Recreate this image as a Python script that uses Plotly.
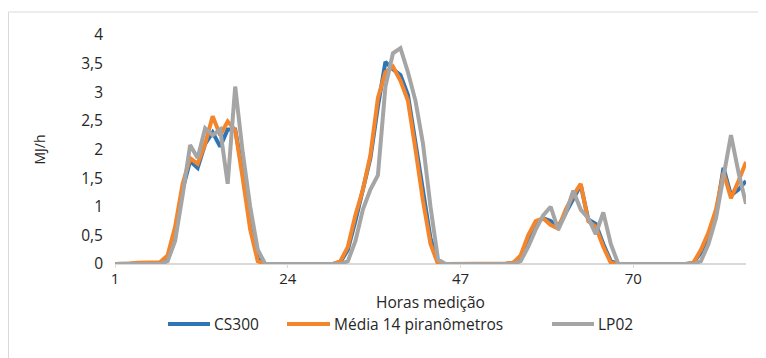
import plotly.graph_objects as go

hours = list(range(1, 86))
tick_vals = [1, 24, 47, 70]
series_names = ["CS300", "Média 14 piranômetros", "LP02"]
series_colors = ["#2E75B6", "#F4852A", "#A5A5A5"]

cs300 = [0, 0, 0, 0.01, 0.01, 0.01, 0.02,
         0.1, 0.5, 1.3, 1.8, 1.68, 2.1, 2.3, 2.05, 2.35, 2.35, 1.6, 0.75, 0.1,
         0, 0, 0, 0, 0, 0, 0, 0, 0, 0,
         0.03, 0.25, 0.75, 1.3, 1.85, 2.75, 3.53, 3.4, 3.3, 2.95, 2.1, 1.2, 0.45, 0.02,
         0, 0, 0, 0, 0, 0, 0, 0, 0,
         0.02, 0.12, 0.45, 0.72, 0.8, 0.75, 0.65, 0.9, 1.15, 1.38, 0.78, 0.7, 0.35, 0.05,
         0, 0, 0, 0, 0, 0, 0, 0, 0, 0,
         0.02, 0.2, 0.5, 0.85, 1.68, 1.2, 1.3, 1.45]

media14 = [0, 0, 0.01, 0.02, 0.02, 0.02, 0.03,
           0.15, 0.65, 1.4, 1.85, 1.75, 2.1, 2.58, 2.25, 2.49, 2.34, 1.5, 0.6, 0.05,
           0, 0, 0, 0, 0, 0, 0, 0, 0, 0,
           0.05, 0.3, 0.85, 1.3, 1.9, 2.9, 3.35, 3.45, 3.2, 2.85, 2.0, 1.1, 0.35, 0.0,
           0, 0, 0, 0, 0, 0, 0, 0.01, 0.01,
           0.02, 0.15, 0.5, 0.75, 0.8, 0.68, 0.62, 0.95, 1.2, 1.4, 0.75, 0.65, 0.3, 0.02,
           0, 0, 0, 0, 0, 0, 0, 0, 0, 0,
           0.02, 0.25, 0.55, 0.95, 1.6, 1.15, 1.45, 1.78]

lp02 = [0, 0, 0, 0, 0, 0, 0,
        0.05, 0.4, 1.2, 2.08, 1.85, 2.37, 2.25, 2.35, 1.4, 3.1, 1.95, 1.0, 0.25,
        0, 0, 0, 0, 0, 0, 0, 0, 0, 0,
        0, 0.05, 0.4, 0.95, 1.3, 1.55, 3.1, 3.68, 3.77, 3.35, 2.85, 2.1, 1.0, 0.08,
        0, 0, 0, 0, 0, 0, 0, 0, 0,
        0, 0.05, 0.3, 0.6, 0.85, 1.0, 0.6, 0.88, 1.28, 0.95, 0.8, 0.52, 0.9, 0.35,
        0, 0, 0, 0, 0, 0, 0, 0, 0, 0,
        0, 0.05, 0.35, 0.8, 1.5, 2.25, 1.6, 1.05]

FONT = "'Open Sans', Lato, sans-serif"
TXT = "#262626"

# figure is drawn at an 8px page offset; plot area in figure coords: x 107-738, y 27-256
L, R, T, B = 107, 20, 27, 94
W, H = 758, 350
PW, PH = W - L - R, H - T - B


def px(x):
    return (x - L) / PW


def py(y):
    return ((T + PH) - y) / PH


fig = go.Figure()
for name, col, vals in zip(series_names, series_colors, [cs300, media14, lp02]):
    fig.add_trace(go.Scatter(x=hours, y=vals, mode="lines", name=name,
                             line=dict(color=col, width=4), showlegend=False))

# custom legend (line samples + labels) to match the reference spacing
leg_y = 316
leg_items = [(160, 202), (279, 322), (544, 586)]
shapes = []
annotations = []
for (x0, x1), name, col in zip(leg_items, series_names, series_colors):
    shapes.append(dict(type="line", xref="paper", yref="paper",
                       x0=px(x0), x1=px(x1), y0=py(leg_y), y1=py(leg_y),
                       line=dict(color=col, width=4)))
    annotations.append(dict(x=px(x1 + 2), y=py(leg_y), xref="paper", yref="paper",
                            text=name, showarrow=False, xanchor="left", yanchor="middle",
                            font=dict(family=FONT, size=15.5, color=TXT)))

# x-axis title placed explicitly
annotations.append(dict(x=0.5, y=py(294), xref="paper", yref="paper",
                        text="Horas medição", showarrow=False,
                        xanchor="center", yanchor="middle",
                        font=dict(family=FONT, size=15.5, color=TXT)))

# chart-area border (top and left edges)
shapes.append(dict(type="line", xref="paper", yref="paper", x0=px(0.5), x1=px(800),
                   y0=py(4), y1=py(4), line=dict(color="#D9D9D9", width=1)))
shapes.append(dict(type="line", xref="paper", yref="paper", x0=px(0.5), x1=px(0.5),
                   y0=py(4), y1=py(400), line=dict(color="#D9D9D9", width=1)))

fig.update_layout(
    width=W, height=H,
    margin=dict(l=L, r=R, t=T, b=B, autoexpand=False),
    paper_bgcolor="white", plot_bgcolor="white",
    separators=",.",
    font=dict(family=FONT, size=15, color=TXT),
    showlegend=False,
    xaxis=dict(range=[1, 85], tickmode="array", tickvals=tick_vals,
               ticktext=[str(v) for v in tick_vals],
               showgrid=False, zeroline=False, showline=False,
               ticks="outside", ticklen=3, tickcolor="#D9D9D9",
               ticklabelstandoff=-2,
               tickfont=dict(family=FONT, size=15, color=TXT)),
    yaxis=dict(range=[0, 4], dtick=0.5, showgrid=False, zeroline=True,
               zerolinecolor="#D9D9D9", zerolinewidth=1.5, showline=False,
               ticks="", ticklabelstandoff=11,
               tickfont=dict(family=FONT, size=15.5, color=TXT),
               title=dict(text="MJ/h", standoff=32,
                          font=dict(family=FONT, size=14, color=TXT))),
    shapes=shapes,
    annotations=annotations,
)

fig.write_html("out.html")
